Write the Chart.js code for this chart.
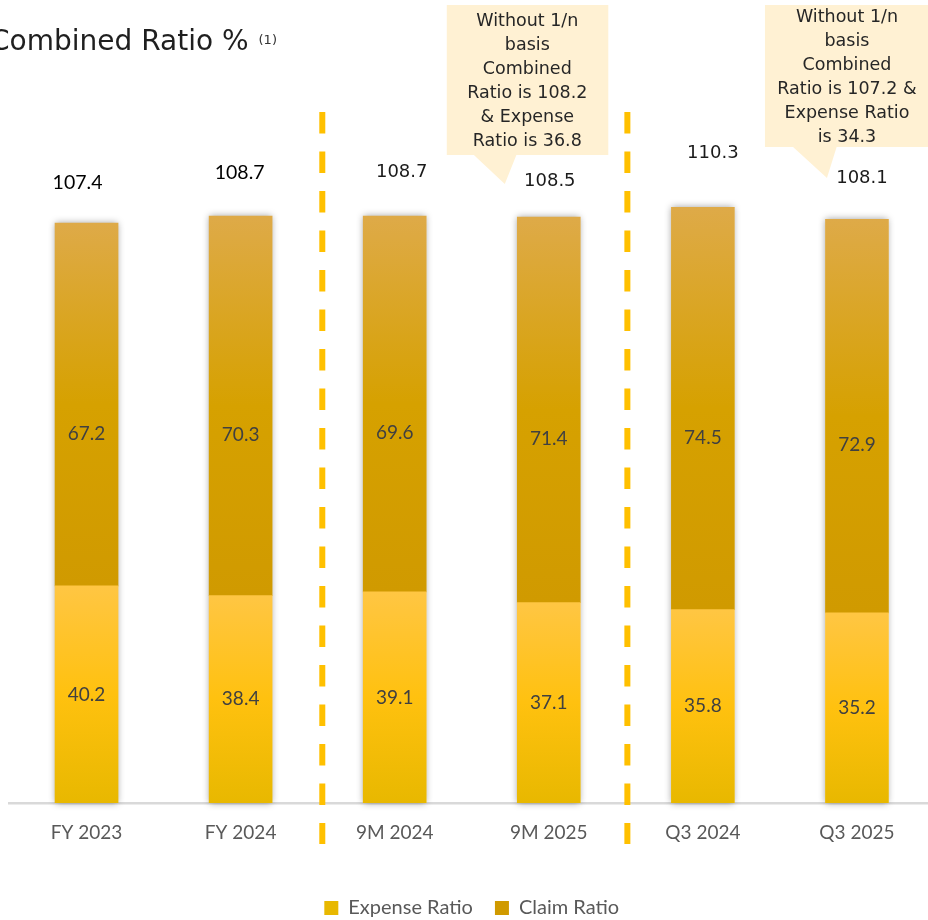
<!DOCTYPE html>
<html><head><meta charset="utf-8">
<script src="https://cdn.jsdelivr.net/npm/chart.js@4"></script>
<style>
html,body{margin:0;padding:0;background:#fff;overflow:hidden;width:928px;height:920px}
#wrap{position:absolute;left:0;top:0;width:940px;height:928px}
</style>
</head><body>
<div id="wrap"><canvas id="c" width="940" height="928"></canvas></div>
<script>
// ---- data ----
const categories = ['FY 2023', 'FY 2024', '9M 2024', '9M 2025', 'Q3 2024', 'Q3 2025'];
const seriesNames = ['Expense Ratio', 'Claim Ratio'];
const expenseRatio = [40.2, 38.4, 39.1, 37.1, 35.8, 35.2];
const claimRatio = [67.2, 70.3, 69.6, 71.4, 74.5, 72.9];
const combinedRatio = [107.4, 108.7, 108.7, 108.5, 110.3, 108.1];
const titleText = 'Combined Ratio %';
const titleNote = '(1)';
const calloutTexts = [
  ['Without 1/n', 'basis', 'Combined', 'Ratio is 108.2', '& Expense', 'Ratio is 36.8'],
  ['Without 1/n', 'basis', 'Combined', 'Ratio is 107.2 &', 'Expense Ratio', 'is 34.3']
];
const calloutCategory = [3, 5];
const separatorsAt = [1.53, 3.51];

// ---- style ----
const CAL = 'Lato, "Open Sans", sans-serif';
const GOTH = '"DejaVu Sans", sans-serif';
const totalLift = [40, 43, 44, 36, 54, 41];
const totalShiftX = [-9, -1, 7, 1, 10, 5];
const totalFont = [CAL, CAL, GOTH, GOTH, GOTH, GOTH];
const calloutGeom = [
  {l: -102, r: 59.5, t: 5, b: 155, tail: [[-76, 0], [-32, 0], [-44, 29]], tx: -21.5, ty: 21},
  {l: -92, r: 75, t: 5, b: 147, tail: [[-65, 0], [-20, 0], [-30, 31]], tx: -10, ty: 17}
];

function barGradient(c, baseVals, endVals, cTop, cMid, cBot, solid) {
  const chart = c.chart;
  if (!chart.chartArea || c.dataIndex === undefined || !chart.scales.y) return solid;
  const ys = chart.scales.y;
  const y0 = ys.getPixelForValue(baseVals ? baseVals[c.dataIndex] : 0);
  const y1 = ys.getPixelForValue(endVals[c.dataIndex]);
  if (!isFinite(y0) || !isFinite(y1) || y0 === y1) return solid;
  const g = chart.ctx.createLinearGradient(0, y1, 0, y0);
  g.addColorStop(0, cTop);
  g.addColorStop(0.5, cMid);
  g.addColorStop(1, cBot);
  return g;
}

const decor = {
  id: 'decor',
  beforeDatasetsDraw(chart) {
    const ctx = chart.ctx;
    const m0 = chart.getDatasetMeta(0), m1 = chart.getDatasetMeta(1);
    ctx.save();
    ctx.shadowColor = 'rgba(0,0,0,0.38)';
    ctx.shadowBlur = 7;
    ctx.fillStyle = '#ffffff';
    m0.data.forEach((b, i) => {
      const top = m1.data[i];
      const w = b.width;
      ctx.fillRect(b.x - w / 2, top.y, w, b.base - top.y);
    });
    ctx.restore();
  },
  afterDatasetsDraw(chart) {
    const ctx = chart.ctx;
    const xs = chart.scales.x;
    // separators
    ctx.save();
    ctx.strokeStyle = '#FFC000';
    ctx.lineWidth = 6;
    ctx.setLineDash([21.5, 18]);
    separatorsAt.forEach(s => {
      const i = Math.floor(s);
      const p0 = xs.getPixelForValue(i), p1 = xs.getPixelForValue(i + 1);
      const x = p0 + (p1 - p0) * (s - i);
      ctx.beginPath();
      ctx.moveTo(x, 112);
      ctx.lineTo(x, 844);
      ctx.stroke();
    });
    ctx.restore();
    // labels
    const m0 = chart.getDatasetMeta(0), m1 = chart.getDatasetMeta(1);
    ctx.save();
    ctx.textAlign = 'center';
    ctx.textBaseline = 'middle';
    ctx.fillStyle = '#404040';
    ctx.font = '19px ' + CAL;
    m0.data.forEach((b, i) => {
      ctx.fillText(expenseRatio[i].toFixed(1), b.x, (b.y + b.base) / 2);
    });
    m1.data.forEach((b, i) => {
      ctx.fillText(claimRatio[i].toFixed(1), b.x, (b.y + b.base) / 2 + 29);
    });
    m1.data.forEach((b, i) => {
      const f = totalFont[i];
      ctx.font = (f === CAL ? '19.5px ' : '18px ') + f;
      ctx.fillStyle = f === CAL ? '#000000' : '#1a1a1a';
      ctx.fillText(combinedRatio[i].toFixed(1), b.x + totalShiftX[i], b.y - totalLift[i]);
    });
    ctx.restore();
  },
  afterDraw(chart) {
    const ctx = chart.ctx;
    const xs = chart.scales.x;
    ctx.save();
    // title
    ctx.fillStyle = '#1f1f1f';
    ctx.textBaseline = 'alphabetic';
    ctx.textAlign = 'left';
    ctx.font = '28px ' + GOTH;
    ctx.fillText(titleText, -10, 50);
    const tw = ctx.measureText(titleText).width;
    ctx.font = '13px ' + GOTH;
    ctx.fillStyle = '#333333';
    ctx.fillText(titleNote, -10 + tw + 10, 44);
    // callouts
    calloutCategory.forEach((ci, k) => {
      const g = calloutGeom[k];
      const cx = xs.getPixelForValue(ci);
      ctx.fillStyle = '#FFF1D3';
      ctx.beginPath();
      ctx.rect(cx + g.l, g.t, g.r - g.l, g.b - g.t);
      ctx.fill();
      ctx.beginPath();
      ctx.moveTo(cx + g.tail[0][0], g.b - 1);
      ctx.lineTo(cx + g.tail[1][0], g.b - 1);
      ctx.lineTo(cx + g.tail[2][0], g.b + g.tail[2][1]);
      ctx.closePath();
      ctx.fill();
      ctx.fillStyle = '#262626';
      ctx.textAlign = 'center';
      ctx.textBaseline = 'middle';
      ctx.font = '17.5px ' + GOTH;
      calloutTexts[k].forEach((line, j) => {
        ctx.fillText(line, cx + g.tx, g.ty + j * 24);
      });
    });
    ctx.restore();
  }
};

const totals = expenseRatio.map((v, i) => v + claimRatio[i]);

new Chart(document.getElementById('c'), {
  type: 'bar',
  data: {
    labels: categories,
    datasets: [
      {
        label: seriesNames[0],
        data: expenseRatio,
        backgroundColor: c => barGradient(c, null, expenseRatio, '#FFC643', '#FFC10F', '#E8B800', '#FFC000'),
        borderWidth: 0
      },
      {
        label: seriesNames[1],
        data: claimRatio,
        backgroundColor: c => barGradient(c, expenseRatio, totals, '#DEAA48', '#D6A100', '#D09A00', '#D49F00'),
        borderWidth: 0
      }
    ]
  },
  options: {
    responsive: false,
    animation: false,
    devicePixelRatio: 1,
    layout: {padding: {top: 47, left: 9.5, right: 6, bottom: 0}},
    datasets: {bar: {barThickness: 63, categoryPercentage: 1, barPercentage: 0.41}},
    scales: {
      x: {
        stacked: true,
        grid: {display: false, drawTicks: false},
        border: {display: true, color: '#D9D9D9', width: 2.5},
        ticks: {color: '#595959', font: {family: CAL, size: 19}, padding: 18.6, maxRotation: 0},
        afterFit(scale) { scale.height = 73; }
      },
      y: {stacked: true, display: false, min: 0, max: 140}
    },
    plugins: {
      legend: {
        position: 'bottom',
        labels: {
          boxWidth: 14, boxHeight: 14, padding: 22, color: '#595959',
          font: {family: CAL, size: 20}
        }
      },
      tooltip: {enabled: false}
    }
  },
  plugins: [decor]
});
</script>
</body></html>
